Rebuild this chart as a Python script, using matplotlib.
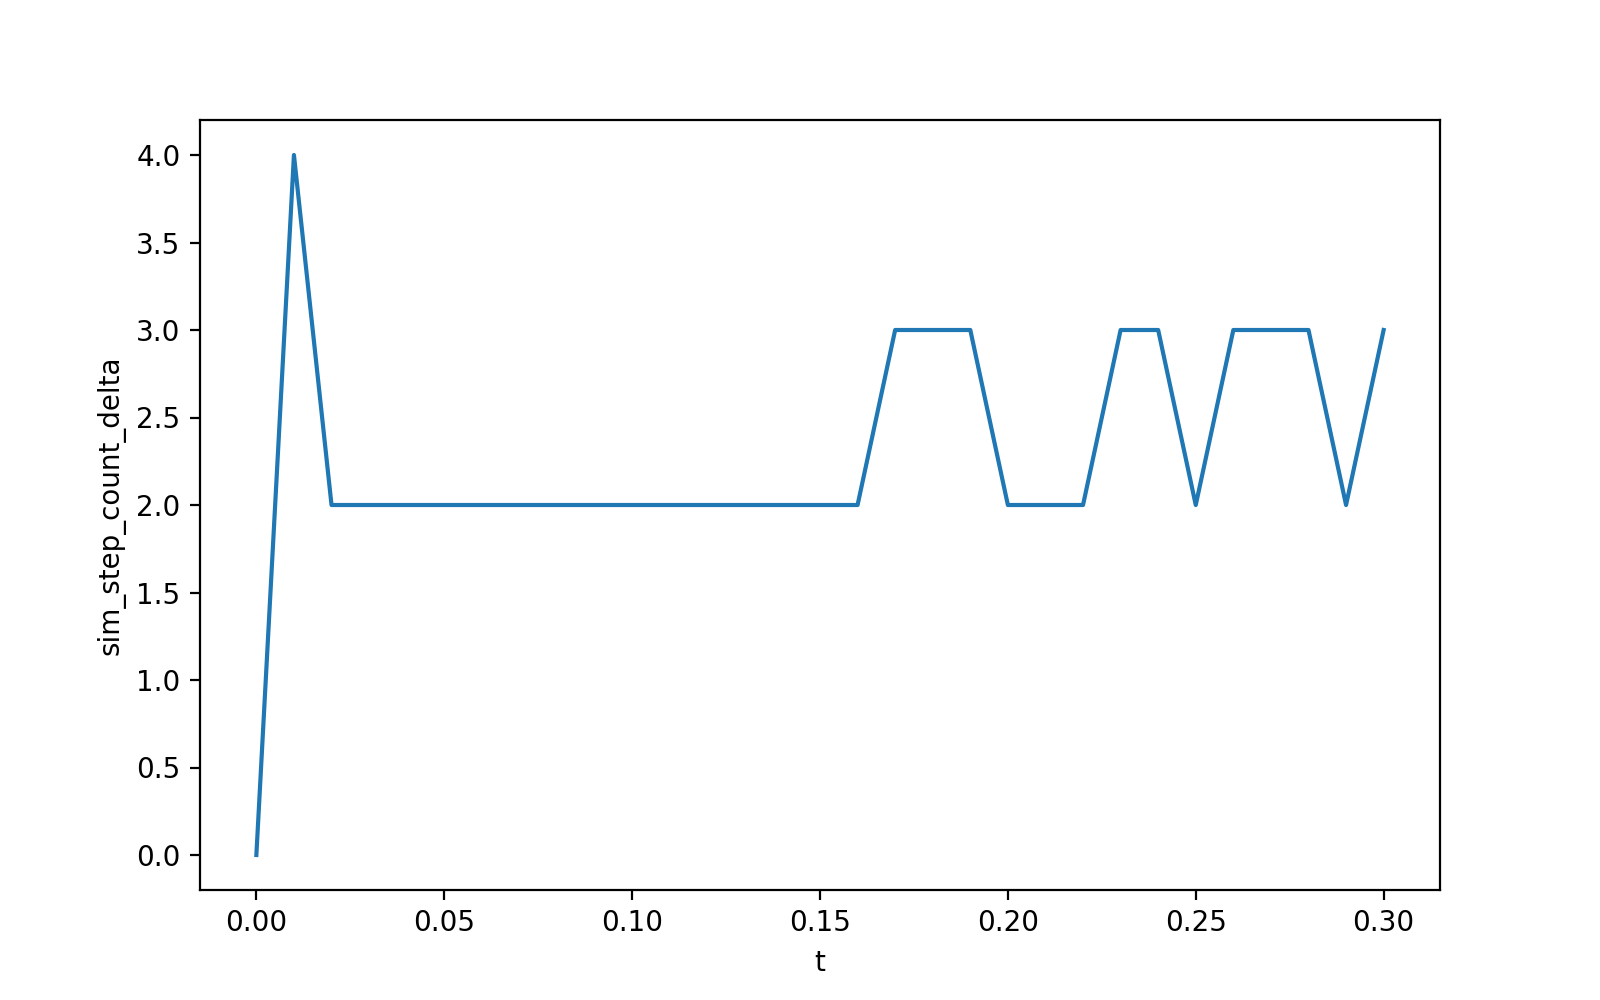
import numpy as np
import matplotlib
matplotlib.use('Agg')
import matplotlib.pyplot as plt

# tiempo de simulación y delta de pasos
t = [0.00, 0.01, 0.02, 0.03, 0.04, 0.05, 0.06, 0.07, 0.08, 0.09, 0.10,
     0.11, 0.12, 0.13, 0.14, 0.15, 0.16, 0.17, 0.18, 0.19, 0.20,
     0.21, 0.22, 0.23, 0.24, 0.25, 0.26, 0.27, 0.28, 0.29, 0.30]
sim_step_count_delta = [0, 4, 2, 2, 2, 2, 2, 2, 2, 2, 2,
                        2, 2, 2, 2, 2, 2, 3, 3, 3, 2,
                        2, 2, 3, 3, 2, 3, 3, 3, 2, 3]

fig, ax = plt.subplots(figsize=(8, 5), dpi=200)
ax.plot(t, sim_step_count_delta)
ax.set_xlabel('t')
ax.set_ylabel('sim_step_count_delta')

plt.savefig('out.png', dpi=200)
plt.close()
